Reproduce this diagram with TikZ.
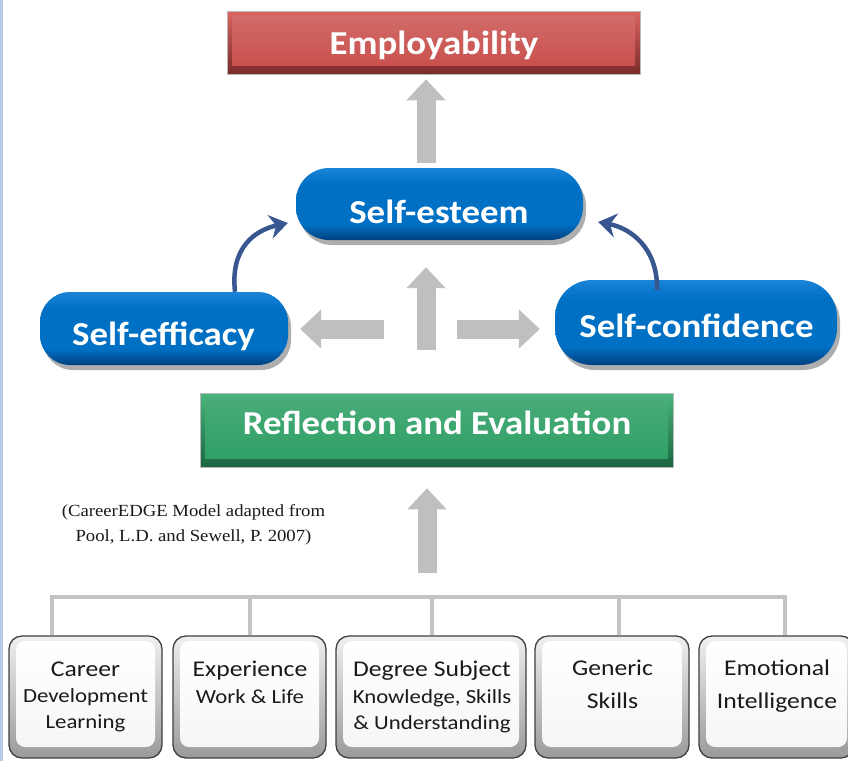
\documentclass[tikz,border=0pt]{standalone}
\usepackage{fontspec}
\setmainfont{Carlito}[FakeStretch=1.14]
\newfontfamily\headfont{Carlito}[FakeStretch=1.1]
\newfontfamily\citefont{Liberation Serif}[FakeStretch=1.1]
\usetikzlibrary{shadows,arrows.meta,calc}
\definecolor{redmain}{HTML}{C9514E}
\definecolor{redtop}{HTML}{DA6461}
\definecolor{redbot}{HTML}{7A2B29}
\definecolor{greenmain}{HTML}{30A066}
\definecolor{greentop}{HTML}{48B67C}
\definecolor{greenbot}{HTML}{1B6540}
\definecolor{bluemain}{HTML}{0070C4}
\definecolor{bluetop}{HTML}{1A84D8}
\definecolor{bluebot}{HTML}{00407F}
\definecolor{arrgray}{HTML}{BFBFBF}
\definecolor{brgray}{HTML}{C3C3C3}
\definecolor{curveblue}{HTML}{38568F}
\definecolor{edgeblue}{HTML}{B7CAE8}
\definecolor{boxline}{HTML}{404040}
\definecolor{boxedge}{HTML}{9A9A9A}
\definecolor{txtdark}{HTML}{1A1A1A}
\pgfdeclareverticalshading{pillshade}{100bp}{color(0bp)=(bluebot); color(25bp)=(bluebot); color(36bp)=(bluemain); color(64bp)=(bluemain); color(75bp)=(bluetop); color(100bp)=(bluetop)}
\begin{document}
\begin{tikzpicture}[x=1pt,y=-1pt,
  outerbox/.style={rectangle, inner sep=0pt, draw=gray!55, line width=0.6pt},
  innerbox/.style={rectangle, inner sep=0pt},
  pill/.style={rectangle, inner sep=0pt, shading=pillshade,
    drop shadow={shadow xshift=3pt, shadow yshift=-5pt, fill=black!45, opacity=0.7}},
  headtext/.style={font=\headfont\fontsize{33.5}{36}\selectfont\bfseries, text=white, inner sep=0pt, anchor=base},
  grayarr/.style={draw=arrgray, line width=19pt, -{Triangle[length=21pt, width=38pt]}},
  curvearr/.style={draw=curveblue, line width=4.5pt, -{Stealth[length=18pt, width=24pt, inset=6pt]}},
  bracket/.style={draw=brgray, line width=4.5pt},
  bxo/.style={rectangle, rounded corners=13pt, draw=boxline, line width=1.3pt, top color=gray!12, bottom color=boxedge, minimum height=122pt, inner sep=0pt},
  bxi/.style={rectangle, rounded corners=9pt, top color=white, bottom color=gray!7, minimum height=106pt, inner sep=0pt},
  bigt/.style={font=\fontsize{22.5}{24}\selectfont, text=txtdark, inner sep=0pt, anchor=base},
  smallt/.style={font=\fontsize{20}{22}\selectfont, text=txtdark, inner sep=0pt, anchor=base},
  citet/.style={font=\citefont\fontsize{17}{20}\selectfont, text=txtdark, inner sep=0pt, anchor=base}
]
\useasboundingbox (0,0) rectangle (848,761);
\fill[white] (0,0) rectangle (848,761);
\fill[edgeblue] (0,0) rectangle (2.5,761);

% Employability
\node[outerbox, top color=redtop, bottom color=redbot, minimum width=413pt, minimum height=63pt] (emp) at (433.5,42.5) {};
\node[innerbox, top color=redmain!85!white, bottom color=redmain, minimum width=403pt, minimum height=50pt] (empIn) at ($(emp.center)+(0,-2)$) {};
\node[headtext] (empT) at (434,54.5) {Employability};

% Reflection and Evaluation
\node[outerbox, top color=greentop, bottom color=greenbot, minimum width=473pt, minimum height=74pt] (refl) at (436.5,430) {};
\node[innerbox, top color=greenmain!88!white, bottom color=greenmain, minimum width=463pt, minimum height=60pt] (reflIn) at ($(refl.center)+(0,-2)$) {};
\node[headtext] (reflT) at (437,434) {Reflection and Evaluation};

% pills
\node[pill, rounded corners=33pt, minimum width=287pt, minimum height=72pt] (est) at (439.5,204) {};
\node[headtext] (estT) at (439,223) {Self-esteem};
\node[pill, rounded corners=30pt, minimum width=248pt, minimum height=73pt] (eff) at (164,328.5) {};
\node[headtext] (effT) at (163.5,345) {Self-efficacy};
\node[pill, rounded corners=37pt, minimum width=282pt, minimum height=85pt] (conf) at (696,322.5) {};
\node[headtext] (confT) at (696.5,337) {Self-confidence};

% gray arrows
\coordinate (upTop) at (426,163);
\draw[grayarr, shorten >=5pt] (upTop) -- (upTop |- emp.south);
\coordinate (hubUp) at (426,350);
\draw[grayarr, shorten >=27pt] (hubUp) -- (hubUp |- est.south);
\coordinate (hubL) at (384,329);
\draw[grayarr, shorten >=12pt] (hubL) -- (hubL -| eff.east);
\coordinate (hubR) at (457,329);
\draw[grayarr, shorten >=15pt] (hubR) -- (hubR -| conf.west);
\coordinate (upBot) at (427,573);
\draw[grayarr, shorten >=21pt] (upBot) -- (upBot |- refl.south);

% curved arrows
\draw[curvearr] ($(eff.north)+(71,0)$) .. controls ($(eff.north)+(66,-45)$) and ($(est.west)+(-40,26)$) .. ($(est.west)+(-8,19)$);
\draw[curvearr] ($(conf.north)+(-39,10)$) .. controls ($(conf.north)+(-38,-32)$) and ($(est.east)+(47,24)$) .. ($(est.east)+(15,18)$);

% citation
\node[citet] (cite1) at (193.5,516.5) {(CareerEDGE Model adapted from};
\node[citet] (cite2) at (193.5,541) {Pool, L.D. and Sewell, P. 2007)};

% bottom boxes
\node[bxo, minimum width=153pt] (b1) at (85.5,697) {};
\node[bxo, minimum width=153pt] (b2) at (249.5,697) {};
\node[bxo, minimum width=190pt] (b3) at (431,697) {};
\node[bxo, minimum width=154pt] (b4) at (612,697) {};
\node[bxo, minimum width=155pt] (b5) at (776.5,697) {};
\node[bxi, minimum width=139pt] (b1i) at ($(b1.center)+(0,-3)$) {};
\node[bxi, minimum width=139pt] (b2i) at ($(b2.center)+(0,-3)$) {};
\node[bxi, minimum width=176pt] (b3i) at ($(b3.center)+(0,-3)$) {};
\node[bxi, minimum width=140pt] (b4i) at ($(b4.center)+(0,-3)$) {};
\node[bxi, minimum width=141pt] (b5i) at ($(b5.center)+(0,-3)$) {};

% bracket
\coordinate (t1) at (52,597);
\coordinate (t2) at (250,597);
\coordinate (t3) at (432,597);
\coordinate (t4) at (619,597);
\coordinate (t5) at (785,597);
\draw[bracket, line cap=rect] (t1) -- (t5);
\draw[bracket] (t1) -- (t1 |- b1.north);
\draw[bracket] (t2) -- (t2 |- b2.north);
\draw[bracket] (t3) -- (t3 |- b3.north);
\draw[bracket] (t4) -- (t4 |- b4.north);
\draw[bracket] (t5) -- (t5 |- b5.north);

% box texts
\node[bigt] (b1a) at (85.5,676) {Career};
\node[smallt] (b1b) at (85.5,702.5) {Development};
\node[smallt] (b1c) at (85.5,728.5) {Learning};
\node[bigt] (b2a) at (250,676.5) {Experience};
\node[smallt] (b2b) at (250,703) {Work \& Life};
\node[bigt] (b3a) at (432,676.5) {Degree Subject};
\node[smallt] (b3b) at (432,703) {Knowledge, Skills};
\node[smallt] (b3c) at (432,729) {\& Understanding};
\node[bigt] (b4a) at (612.5,675.5) {Generic};
\node[bigt] (b4b) at (612.5,708) {Skills};
\node[bigt] (b5a) at (777,675.5) {Emotional};
\node[bigt] (b5b) at (777,708) {Intelligence};
\end{tikzpicture}
\end{document}
